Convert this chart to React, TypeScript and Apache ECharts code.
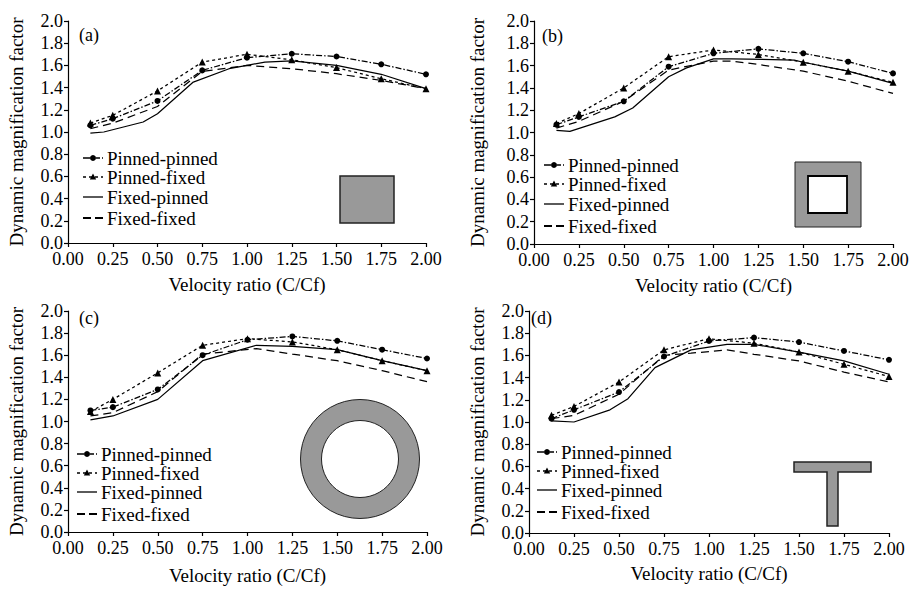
import React, { useEffect, useRef } from "react";
import * as echarts from "echarts";

// ---------- data ----------
const ratioX = [0.125, 0.25, 0.5, 0.75, 1.0, 1.25, 1.5, 1.75, 2.0];
const xTicks = [0, 0.25, 0.5, 0.75, 1.0, 1.25, 1.5, 1.75, 2.0];
const yTicks = [0, 0.2, 0.4, 0.6, 0.8, 1.0, 1.2, 1.4, 1.6, 1.8, 2.0];
const seriesNames = ["Pinned-pinned", "Pinned-fixed", "Fixed-pinned", "Fixed-fixed"];
const panelLabels = ["(a)", "(b)", "(c)", "(d)"];

// (a) solid square
const aPP = [1.06, 1.12, 1.28, 1.555, 1.67, 1.705, 1.68, 1.61, 1.52];
const aPF = [1.08, 1.15, 1.37, 1.63, 1.70, 1.65, 1.58, 1.48, 1.39];
const aFPx = [0.125, 0.2, 0.42, 0.5, 0.7, 0.9, 1.0, 1.1, 1.25, 1.5, 1.75, 2.0];
const aFPy = [0.99, 1.0, 1.09, 1.165, 1.45, 1.57, 1.6, 1.63, 1.64, 1.6, 1.52, 1.39];
const aFFx = ratioX;
const aFFy = [1.03, 1.08, 1.23, 1.545, 1.6, 1.57, 1.525, 1.465, 1.39];

// (b) hollow square
const bPP = [1.07, 1.14, 1.28, 1.59, 1.71, 1.75, 1.71, 1.635, 1.53];
const bPF = [1.08, 1.17, 1.4, 1.68, 1.74, 1.7, 1.63, 1.55, 1.45];
const bFPx = [0.125, 0.2, 0.45, 0.55, 0.75, 0.85, 1.0, 1.1, 1.45, 1.5, 1.75, 2.0];
const bFPy = [1.02, 1.01, 1.14, 1.22, 1.5, 1.58, 1.66, 1.66, 1.65, 1.63, 1.55, 1.44];
const bFFx = [0.125, 0.25, 0.5, 0.75, 1.0, 1.1, 1.25, 1.5, 1.75, 2.0];
const bFFy = [1.04, 1.1, 1.28, 1.56, 1.64, 1.64, 1.61, 1.55, 1.46, 1.35];

// (c) circular ring
const cPP = [1.1, 1.13, 1.29, 1.6, 1.74, 1.77, 1.73, 1.65, 1.57];
const cPF = [1.09, 1.2, 1.44, 1.69, 1.75, 1.72, 1.65, 1.55, 1.46];
const cFPx = [0.125, 0.25, 0.5, 0.75, 1.05, 1.25, 1.5, 1.75, 2.0];
const cFPy = [1.015, 1.05, 1.2, 1.55, 1.69, 1.68, 1.65, 1.55, 1.46];
const cFFx = [0.125, 0.25, 0.5, 0.75, 1.05, 1.25, 1.5, 1.75, 2.0];
const cFFy = [1.05, 1.08, 1.27, 1.61, 1.66, 1.61, 1.55, 1.46, 1.36];

// (d) T-section
const dPP = [1.03, 1.11, 1.27, 1.59, 1.73, 1.76, 1.72, 1.64, 1.56];
const dPF = [1.06, 1.14, 1.36, 1.65, 1.75, 1.71, 1.63, 1.52, 1.41];
const dFPx = [0.125, 0.25, 0.45, 0.55, 0.7, 0.9, 1.1, 1.25, 1.5, 1.75, 2.0];
const dFPy = [1.01, 1.0, 1.11, 1.21, 1.49, 1.65, 1.7, 1.7, 1.63, 1.55, 1.43];
const dFFx = [0.125, 0.25, 0.5, 0.75, 0.9, 1.1, 1.25, 1.5, 1.75, 2.0];
const dFFy = [1.03, 1.06, 1.25, 1.6, 1.62, 1.65, 1.61, 1.55, 1.45, 1.36];

const panels = [
  { pp: aPP, pf: aPF, fpx: aFPx, fpy: aFPy, ffx: aFFx, ffy: aFFy },
  { pp: bPP, pf: bPF, fpx: bFPx, fpy: bFPy, ffx: bFFx, ffy: bFFy },
  { pp: cPP, pf: cPF, fpx: cFPx, fpy: cFPy, ffx: cFFx, ffy: cFFy },
  { pp: dPP, pf: dPF, fpx: dFPx, fpy: dFPy, ffx: dFFx, ffy: dFFy },
];

// ---------- layout / styles ----------
const FONT = "'Liberation Serif', 'Times New Roman', serif";
const grids = [
  { left: 68, top: 21, width: 358, height: 222 },
  { left: 534, top: 21, width: 359, height: 223 },
  { left: 68, top: 311, width: 359, height: 221 },
  { left: 529, top: 311, width: 360, height: 222 },
];
const yNameGaps = [42, 47, 42, 42];
const xNameGaps = [32, 32, 34, 31];
const legendBoxes = [
  { x: 83, rows: [158, 177, 197, 218] },
  { x: 544, rows: [165, 184, 204, 226] },
  { x: 77, rows: [454, 473, 492, 514] },
  { x: 537, rows: [452, 471, 490, 512] },
];
const labelPos = [
  [79, 35],
  [542, 36],
  [79, 318],
  [531, 318],
];
const lineDashes: any[] = [[6, 2, 1.5, 2], [3, 3], "solid", [8, 5]];
const legendDashes: any[] = [[7, 2, 2, 2, 4, 2], [3, 3], null, [8, 4]];
const markers = ["circle", "triangle", "none", "none"];

const zip = (xs: number[], ys: number[]) => xs.map((x, i) => [x, ys[i]]);

export default function App() {
  const ref = useRef<HTMLDivElement>(null);
  useEffect(() => {
    if (!ref.current) return;
    const chart = echarts.init(ref.current, undefined, { renderer: "svg" });
    const axisCommon = {
      axisLine: { show: true, lineStyle: { color: "#000", width: 1.2 } },
      axisTick: { show: true, inside: false, length: 4, lineStyle: { color: "#000", width: 1.2 } },
      splitLine: { show: false },
    };
    const xAxis = grids.map((_, i) => ({
      ...axisCommon,
      type: "value",
      gridIndex: i,
      min: xTicks[0],
      max: xTicks[xTicks.length - 1],
      interval: 0.25,
      name: "Velocity ratio (C/Cf)",
      nameLocation: "middle",
      nameGap: xNameGaps[i],
      nameTextStyle: { fontFamily: FONT, fontSize: 19, color: "#000" },
      axisLabel: {
        fontFamily: FONT,
        fontSize: 18,
        color: "#000",
        margin: 7,
        formatter: (v: number) => v.toFixed(2),
      },
    }));
    const yAxis = grids.map((_, i) => ({
      ...axisCommon,
      type: "value",
      gridIndex: i,
      min: yTicks[0],
      max: yTicks[yTicks.length - 1],
      interval: 0.2,
      name: "Dynamic magnification factor",
      nameLocation: "middle",
      nameGap: yNameGaps[i],
      nameTextStyle: { fontFamily: FONT, fontSize: 19, color: "#000" },
      axisLabel: {
        fontFamily: FONT,
        fontSize: 18,
        color: "#000",
        margin: 5,
        formatter: (v: number) => v.toFixed(1),
      },
    }));
    const series: any[] = [];
    panels.forEach((p, i) => {
      const datas = [
        zip(ratioX, p.pp),
        zip(ratioX, p.pf),
        zip(p.fpx, p.fpy),
        zip(p.ffx, p.ffy),
      ];
      datas.forEach((d, k) => {
        series.push({
          type: "line",
          xAxisIndex: i,
          yAxisIndex: i,
          name: seriesNames[k],
          data: d,
          symbol: markers[k],
          symbolSize: k === 1 ? 7 : 6,
          showSymbol: markers[k] !== "none",
          itemStyle: { color: "#000" },
          lineStyle: { color: "#000", width: 1.25, type: lineDashes[k] },
        });
      });
    });

    const shapeStyle = { fill: "#999", stroke: "#222", lineWidth: 1.5 };
    const graphic: any[] = [
      { type: "rect", shape: { x: 340, y: 176, width: 54, height: 47 }, style: shapeStyle },
      { type: "rect", shape: { x: 795, y: 162, width: 66, height: 65 }, style: { fill: "#999", stroke: "#222", lineWidth: 1 } },
      { type: "rect", shape: { x: 808, y: 176, width: 39, height: 37 }, style: { fill: "#fff", stroke: "#000", lineWidth: 1.8 } },
      { type: "ring", shape: { cx: 360, cy: 459, r: 59.5, r0: 38.5 }, style: { fill: "#999", stroke: "#222", lineWidth: 1 } },
      {
        type: "polygon",
        shape: {
          points: [
            [794, 462], [871, 462], [871, 472], [838, 472],
            [838, 526], [827, 526], [827, 472], [794, 472],
          ],
        },
        style: shapeStyle,
      },
      ...labelPos.map((pt, i) => ({
        type: "text",
        x: pt[0],
        y: pt[1],
        style: {
          text: panelLabels[i],
          fontFamily: FONT,
          fontSize: 18,
          fill: "#000",
          verticalAlign: "middle",
        },
      })),
    ];
    // legends
    legendBoxes.forEach((lb) => {
      lb.rows.forEach((ry, k) => {
        const x1 = lb.x;
        const x2 = lb.x + 20;
        const cx = (x1 + x2) / 2;
        graphic.push({
          type: "line",
          shape: { x1, y1: ry, x2, y2: ry },
          style: {
            stroke: "#000",
            lineWidth: k === 3 ? 1.8 : 1.3,
            lineDash: legendDashes[k] || undefined,
          },
        });
        if (markers[k] === "circle") {
          graphic.push({ type: "circle", shape: { cx, cy: ry, r: 3 }, style: { fill: "#000" } });
        } else if (markers[k] === "triangle") {
          graphic.push({
            type: "polygon",
            shape: { points: [[cx, ry - 3.5], [cx + 3.2, ry + 2.5], [cx - 3.2, ry + 2.5]] },
            style: { fill: "#000" },
          });
        }
        graphic.push({
          type: "text",
          x: lb.x + 24,
          y: ry,
          style: {
            text: seriesNames[k],
            fontFamily: FONT,
            fontSize: 19,
            fill: "#000",
            verticalAlign: "middle",
          },
        });
      });
    });

    chart.setOption({
      animation: false,
      backgroundColor: "#fff",
      grid: grids,
      xAxis,
      yAxis,
      series,
      graphic,
    } as any);
    return () => chart.dispose();
  }, []);
  return (
    <div
      ref={ref}
      style={{ position: "fixed", left: 0, top: 0, width: 916, height: 592, background: "#fff" }}
    />
  );
}
